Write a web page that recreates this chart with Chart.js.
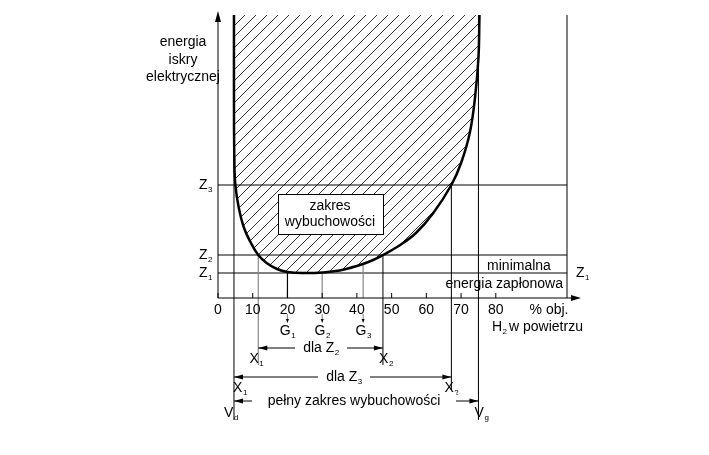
<!DOCTYPE html>
<html><head><meta charset="utf-8">
<script src="https://cdn.jsdelivr.net/npm/chart.js@4/dist/chart.umd.min.js"></script>
<style>body{margin:0;background:#fff}#wrap{width:709px;height:455px}</style>
</head><body><div id="wrap"><canvas id="c"></canvas></div>
<script>
// granica wybuchowosci (x = % obj., y = energia w jednostkach umownych)
var krzyweX = [4.6, 4.6, 4.7, 5, 6, 7.5, 9.5, 11.6, 14, 17, 20, 25, 30, 35, 40, 44, 47.5, 52, 57, 62, 67.2, 70, 72.5, 74, 75, 75.3];
var krzyweY = [283, 200, 140, 113, 90, 70, 55, 43, 35, 29, 26, 25, 25.5, 27.5, 32, 37, 43, 52, 65, 85, 113, 135, 165, 200, 240, 283];
var ticksX = [0, 10, 20, 30, 40, 50, 60, 70, 80];
var poziomyZ = {Z1: 25, Z2: 43, Z3: 113};
var punktyG = [20, 30, 41.8];
var granice = {X1z2: 11.6, X2z2: 47.5, X1z3: 4.6, X2z3: 67.2, Vd: 4.6, Vg: 75};

var FONT = '14px "Liberation Sans", Arial, sans-serif';
var SMALL = '8px "Liberation Sans", Arial, sans-serif';

function tekst(ctx, s, sub, x, y, align) {
  ctx.font = FONT; ctx.textAlign = 'left'; ctx.textBaseline = 'middle';
  var w = ctx.measureText(s).width, ws = 0;
  if (sub) { ctx.font = SMALL; ws = ctx.measureText(sub).width; }
  var x0 = align === 'center' ? x - (w + ws) / 2 : align === 'right' ? x - w - ws : x;
  ctx.font = FONT; ctx.fillText(s, x0, y);
  if (sub) { ctx.font = SMALL; ctx.fillText(sub, x0 + w + 0.5, y + 5); }
}
function linia(ctx, x1, y1, x2, y2, kolor, gr) {
  ctx.strokeStyle = kolor || '#000'; ctx.lineWidth = gr || 1;
  ctx.beginPath(); ctx.moveTo(x1, y1); ctx.lineTo(x2, y2); ctx.stroke();
}
function grot(ctx, x, y, kier) {
  ctx.fillStyle = '#000'; ctx.beginPath();
  ctx.moveTo(x, y); ctx.lineTo(x - kier * 9, y - 2.5); ctx.lineTo(x - kier * 9, y + 2.5); ctx.fill();
}
function strzalka(ctx, xa, xb, y) {
  linia(ctx, xa, y, xb, y); grot(ctx, xa, y, -1); grot(ctx, xb, y, 1);
}

var rysunek = {
  id: 'rysunek',
  beforeDatasetsDraw: function (chart) {
    var ctx = chart.ctx, sx = chart.scales.x, sy = chart.scales.y;
    var X = function (v) { return sx.getPixelForValue(v); };
    var Y = function (v) { return sy.getPixelForValue(v); };
    var top = chart.chartArea.top, bot = Y(0), right = chart.chartArea.right;
    ctx.save();
    // kreskowanie
    ctx.save(); ctx.beginPath();
    krzyweX.forEach(function (v, i) { var px = X(v), py = Y(krzyweY[i]); i ? ctx.lineTo(px, py) : ctx.moveTo(px, py); });
    ctx.closePath(); ctx.clip();
    for (var k = -300; k < 700; k += 11) linia(ctx, X(0) + k, bot, X(0) + k + bot - top, top, '#000', 0.8);
    ctx.restore();
    // linie poziome Z
    ['Z1', 'Z2', 'Z3'].forEach(function (z) { linia(ctx, X(0), Y(poziomyZ[z]), right, Y(poziomyZ[z])); });
    // pionowe
    linia(ctx, right, top, right, bot);
    linia(ctx, X(granice.Vd), top, X(granice.Vd), 420);
    linia(ctx, X(granice.Vg), top, X(granice.Vg), 420);
    linia(ctx, X(granice.X2z3), Y(poziomyZ.Z3), X(granice.X2z3), 390);
    linia(ctx, X(granice.X1z2), Y(poziomyZ.Z2), X(granice.X1z2), 365, '#888', 1.2);
    linia(ctx, X(granice.X2z2), Y(poziomyZ.Z2), X(granice.X2z2), 365);
    punktyG.forEach(function (g, i) {
      linia(ctx, X(g), i === 0 ? Y(poziomyZ.Z1) : Y(i === 1 ? 25.5 : 33), X(g), bot, i === 0 ? '#000' : '#888', 1.2);
    });
    // osie
    linia(ctx, X(0), bot, right + 8, bot);
    ctx.fillStyle = '#000'; ctx.beginPath(); ctx.moveTo(right + 14, bot); ctx.lineTo(right + 4, bot - 3); ctx.lineTo(right + 4, bot + 3); ctx.fill();
    linia(ctx, X(0), bot, X(0), top + 6);
    ctx.beginPath(); ctx.moveTo(X(0), top - 4); ctx.lineTo(X(0) - 3, top + 7); ctx.lineTo(X(0) + 3, top + 7); ctx.fill();
    ticksX.forEach(function (t) { linia(ctx, X(t), bot, X(t), bot - 5); tekst(ctx, String(t), null, X(t), bot + 12, 'center'); });
    tekst(ctx, '% obj.', null, 549, bot + 12, 'center');
    tekst(ctx, 'H', '2', 492, 327, 'left');
    tekst(ctx, 'w powietrzu', null, 509, 327, 'left');
    // opis osi Y
    tekst(ctx, 'energia', null, 183, 42, 'center');
    tekst(ctx, 'iskry', null, 183, 60, 'center');
    tekst(ctx, 'elektrycznej', null, 183, 77, 'center');
    tekst(ctx, 'Z', '3', 199, Y(poziomyZ.Z3), 'left');
    tekst(ctx, 'Z', '2', 199, Y(poziomyZ.Z2), 'left');
    tekst(ctx, 'Z', '1', 199, Y(poziomyZ.Z1), 'left');
    tekst(ctx, 'Z', '1', 576, Y(poziomyZ.Z1), 'left');
    tekst(ctx, 'minimalna', null, 519, 266, 'center');
    tekst(ctx, 'energia zapłonowa', null, 563, 284, 'right');
    // G
    punktyG.forEach(function (g, i) {
      linia(ctx, X(g), 314, X(g), 320, '#666', 0.8);
      ctx.beginPath(); ctx.moveTo(X(g), 323); ctx.lineTo(X(g) - 1.5, 319); ctx.lineTo(X(g) + 1.5, 319); ctx.fill();
      tekst(ctx, 'G', String(i + 1), X(g), 331, 'center');
    });
    // zakresy
    strzalka(ctx, X(granice.X1z2), X(granice.X2z2), 348);
    ctx.fillStyle = '#fff'; ctx.fillRect(295, 340, 52, 16); ctx.fillStyle = '#000';
    tekst(ctx, 'dla Z', '2', 321, 348, 'center');
    tekst(ctx, 'X', '1', X(granice.X1z2) - 2, 359, 'center');
    tekst(ctx, 'X', '2', X(granice.X2z2) + 3, 359, 'center');
    strzalka(ctx, X(granice.X1z3), X(granice.X2z3), 377);
    ctx.fillStyle = '#fff'; ctx.fillRect(318, 369, 52, 16); ctx.fillStyle = '#000';
    tekst(ctx, 'dla Z', '3', 344, 377, 'center');
    tekst(ctx, 'X', '1', X(granice.X1z3) + 6, 388, 'center');
    tekst(ctx, 'X', '2', X(granice.X2z3), 388, 'center');
    strzalka(ctx, X(granice.Vd), X(granice.Vg), 401);
    ctx.fillStyle = '#fff'; ctx.fillRect(252, 393, 204, 16); ctx.fillStyle = '#000';
    tekst(ctx, 'pełny zakres wybuchowości', null, 354, 401, 'center');
    tekst(ctx, 'V', 'd', X(granice.Vd) - 3, 413, 'center');
    tekst(ctx, 'V', 'g', X(granice.Vg) + 3, 413, 'center');
    // ramka z opisem
    ctx.fillStyle = '#fff'; ctx.fillRect(278, 194, 105, 40);
    ctx.strokeStyle = '#000'; ctx.lineWidth = 1; ctx.strokeRect(278.5, 194.5, 105, 40);
    ctx.fillStyle = '#000';
    tekst(ctx, 'zakres', null, 330, 206, 'center');
    tekst(ctx, 'wybuchowości', null, 330, 222, 'center');
    ctx.restore();
  }
};

var dane = krzyweX.map(function (v, i) { return {x: v, y: krzyweY[i]}; });
new Chart(document.getElementById('c'), {
  type: 'scatter',
  data: {datasets: [{data: dane, showLine: true, borderColor: '#000', borderWidth: 2.5, pointRadius: 0, tension: 0.4, fill: false}]},
  options: {
    responsive: true, maintainAspectRatio: false, animation: false,
    layout: {padding: {left: 218, right: 142, top: 15, bottom: 157}},
    plugins: {legend: {display: false}, tooltip: {enabled: false}},
    scales: {
      x: {type: 'linear', min: 0, max: 100.5, display: false},
      y: {type: 'linear', min: 0, max: 283, display: false}
    }
  },
  plugins: [rysunek]
});
</script></body></html>
